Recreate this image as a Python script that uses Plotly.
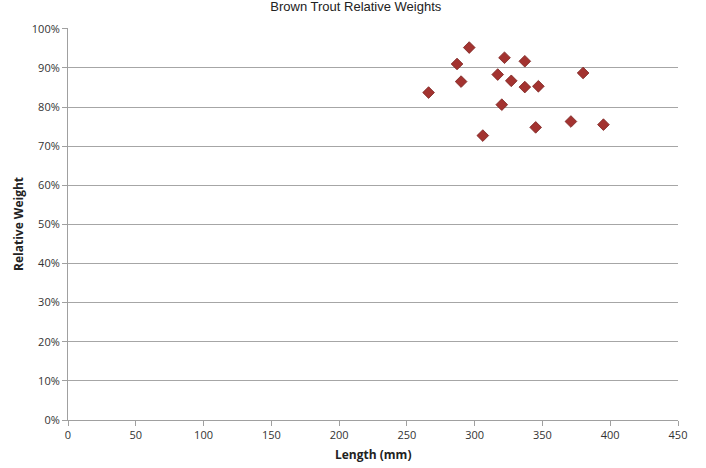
import plotly.graph_objects as go

lengths = [266, 287, 296, 290, 306, 317, 322, 320, 327, 337, 337, 347, 345, 371, 380, 395]
rel_weight = [0.837, 0.910, 0.952, 0.865, 0.727, 0.883, 0.926, 0.806, 0.867, 0.917, 0.851, 0.853, 0.748, 0.763, 0.887, 0.755]
x_ticks = [0, 50, 100, 150, 200, 250, 300, 350, 400, 450]
y_ticks = [0, 0.1, 0.2, 0.3, 0.4, 0.5, 0.6, 0.7, 0.8, 0.9, 1.0]

fig = go.Figure()
fig.add_trace(go.Scatter(
    x=lengths, y=rel_weight, mode="markers",
    marker=dict(symbol="diamond", size=9, color="#a33330",
                line=dict(color="#7a2220", width=0.8)),
    showlegend=False,
))

fig.update_layout(
    width=706, height=468,
    margin=dict(l=68, r=28, t=28, b=48),
    paper_bgcolor="white", plot_bgcolor="white",
    title=dict(text="Brown Trout Relative Weights", x=0.504, xanchor="center",
               yref="container", y=0.995, yanchor="top",
               font=dict(family="Liberation Sans, Arial", size=13, color="#222")),
    font=dict(family="Open Sans, Noto Sans", size=11, color="#333"),
    annotations=[
        dict(text="<b>Length (mm)</b>", xref="paper", yref="paper",
             x=0.5, y=-0.062, xanchor="center", yanchor="top", showarrow=False,
             font=dict(size=12, color="#222")),
        dict(text="<b>Relative Weight</b>", xref="paper", yref="paper",
             x=-0.082, y=0.5, xanchor="center", yanchor="middle", textangle=-90,
             showarrow=False, font=dict(size=12, color="#222")),
    ],
)
fig.update_xaxes(
    range=[0, 450], tickvals=x_ticks, ticktext=[str(v) for v in x_ticks],
    showgrid=False, showline=True, linecolor="#a0a0a0", linewidth=1,
    ticks="outside", ticklen=5, tickcolor="#a0a0a0",
    tickfont=dict(size=11, color="#333"), automargin=False,
    zeroline=False,
)
fig.update_yaxes(
    range=[0, 1.002], tickvals=y_ticks, tickformat=".0%",
    showgrid=True, gridcolor="#a6a6a6", gridwidth=1,
    showline=True, linecolor="#a0a0a0", linewidth=1,
    ticks="outside", ticklen=5, tickcolor="#a0a0a0",
    tickfont=dict(size=11, color="#333"), automargin=False,
    zeroline=False,
)

fig.write_html("out.html", config={"displayModeBar": False},
               post_script="document.body.style.margin='0';")
